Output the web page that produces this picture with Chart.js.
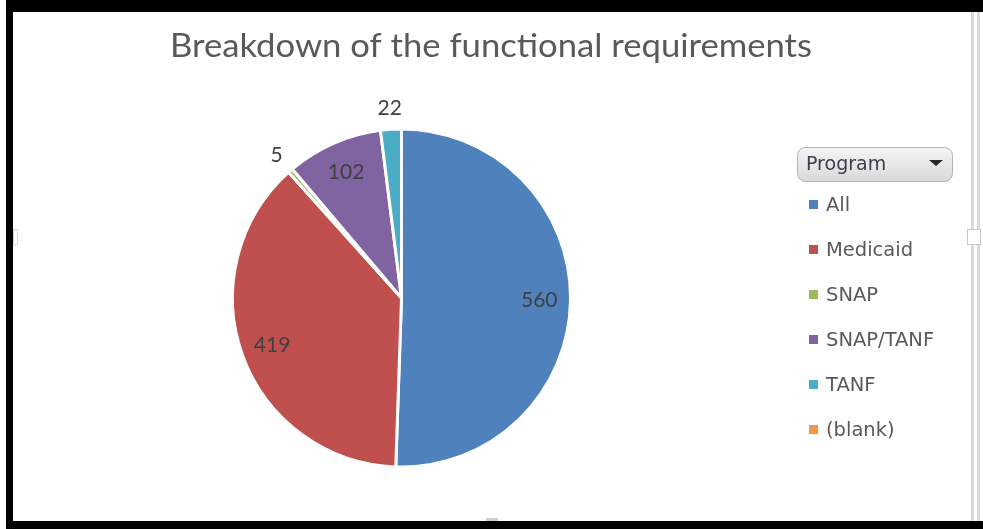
<!DOCTYPE html>
<html><head><meta charset="utf-8">
<script src="https://cdn.jsdelivr.net/npm/chart.js@4/dist/chart.umd.min.js"></script>
<style>html,body{margin:0;padding:0;background:#fff;overflow:hidden}canvas{display:block}</style>
</head><body>
<canvas id="c" width="983" height="529"></canvas>
<script>
const chartTitle = "Breakdown of the functional requirements";
const legendTitle = "Program";
const categories = ["All", "Medicaid", "SNAP", "SNAP/TANF", "TANF", "(blank)"];
const counts = [560, 419, 5, 102, 22, 0];
const sliceColors = ["#4F81BD", "#C0504D", "#9BBB59", "#8064A2", "#4BACC6", "#F79646"];

const decor = {
  id: 'decor',
  beforeDraw(chart) {
    const ctx = chart.ctx;
    ctx.save();
    ctx.fillStyle = '#ffffff';
    ctx.fillRect(0, 0, chart.width, chart.height);
    ctx.restore();
  },
  afterDatasetsDraw(chart) {
    const ctx = chart.ctx;
    const meta = chart.getDatasetMeta(0);
    ctx.save();
    ctx.font = '21px Lato';
    ctx.fillStyle = '#404040';
    ctx.textAlign = 'center';
    ctx.textBaseline = 'middle';
    meta.data.forEach((arc, i) => {
      const v = counts[i];
      if (!v) return;
      const p = arc.getProps(['x', 'y', 'startAngle', 'endAngle', 'outerRadius'], true);
      const mid = (p.startAngle + p.endAngle) / 2;
      const span = p.endAngle - p.startAngle;
      const r = span < 0.2 ? p.outerRadius + 21 : p.outerRadius * 0.815;
      ctx.fillText(String(v), p.x + Math.cos(mid) * r, p.y + Math.sin(mid) * r);
    });
    ctx.restore();
  },
  afterDraw(chart) {
    const ctx = chart.ctx;
    ctx.save();
    // title
    ctx.font = '33px Lato';
    ctx.fillStyle = '#595959';
    ctx.textAlign = 'center';
    ctx.textBaseline = 'alphabetic';
    const tw = ctx.measureText(chartTitle).width;
    const sx = 642 / tw;
    ctx.save();
    ctx.translate(491, 57);
    ctx.scale(sx, 1);
    ctx.fillText(chartTitle, 0, 0);
    ctx.restore();

    // legend button
    const g = ctx.createLinearGradient(0, 147, 0, 181);
    g.addColorStop(0, '#f5f5f5');
    g.addColorStop(1, '#d9d9d9');
    ctx.beginPath();
    ctx.roundRect(797.5, 147.5, 155, 34, 8);
    ctx.fillStyle = g;
    ctx.fill();
    ctx.strokeStyle = '#b3b3b3';
    ctx.lineWidth = 1;
    ctx.stroke();
    ctx.font = '19px "DejaVu Sans"';
    ctx.fillStyle = '#3d3d52';
    ctx.textAlign = 'left';
    ctx.textBaseline = 'middle';
    ctx.fillText(legendTitle, 806, 165);
    ctx.beginPath();
    ctx.moveTo(929, 160);
    ctx.lineTo(943, 160);
    ctx.lineTo(936, 166);
    ctx.closePath();
    ctx.fillStyle = '#262626';
    ctx.fill();

    // legend items
    ctx.font = '19.5px "DejaVu Sans"';
    categories.forEach((c, i) => {
      const y = 204.5 + i * 45;
      ctx.fillStyle = sliceColors[i];
      ctx.fillRect(809, y - 4.5, 9, 9);
      ctx.fillStyle = '#595959';
      ctx.fillText(c, 826, y + 1);
    });

    // frame
    ctx.fillStyle = '#000000';
    ctx.fillRect(6, 0, 977, 12);
    ctx.fillRect(6, 0, 7, 529);
    ctx.fillRect(6, 521, 977, 8);
    ctx.fillStyle = '#dadada';
    ctx.fillRect(971, 12, 3, 509);
    ctx.fillRect(977, 12, 3, 509);
    ctx.fillStyle = '#ffffff';
    ctx.fillRect(967, 229, 14, 16);
    ctx.strokeStyle = '#c8c8c8';
    ctx.strokeRect(967.5, 229.5, 13, 15);
    ctx.strokeStyle = '#d9d9d9';
    ctx.strokeRect(13.5, 229.5, 4, 15);
    ctx.fillStyle = '#d0d0d0';
    ctx.fillRect(486, 518, 12, 3);
    ctx.restore();
  }
};

new Chart(document.getElementById('c'), {
  type: 'pie',
  data: {
    labels: categories,
    datasets: [{
      data: counts,
      backgroundColor: sliceColors,
      borderColor: '#ffffff',
      borderWidth: 3
    }]
  },
  options: {
    responsive: false,
    devicePixelRatio: 1,
    animation: false,
    events: [],
    radius: 169,
    layout: { padding: { left: 234, right: 414, top: 130, bottom: 63 } },
    plugins: {
      legend: { display: false },
      title: { display: false },
      tooltip: { enabled: false }
    }
  },
  plugins: [decor]
});
</script>
</body></html>
